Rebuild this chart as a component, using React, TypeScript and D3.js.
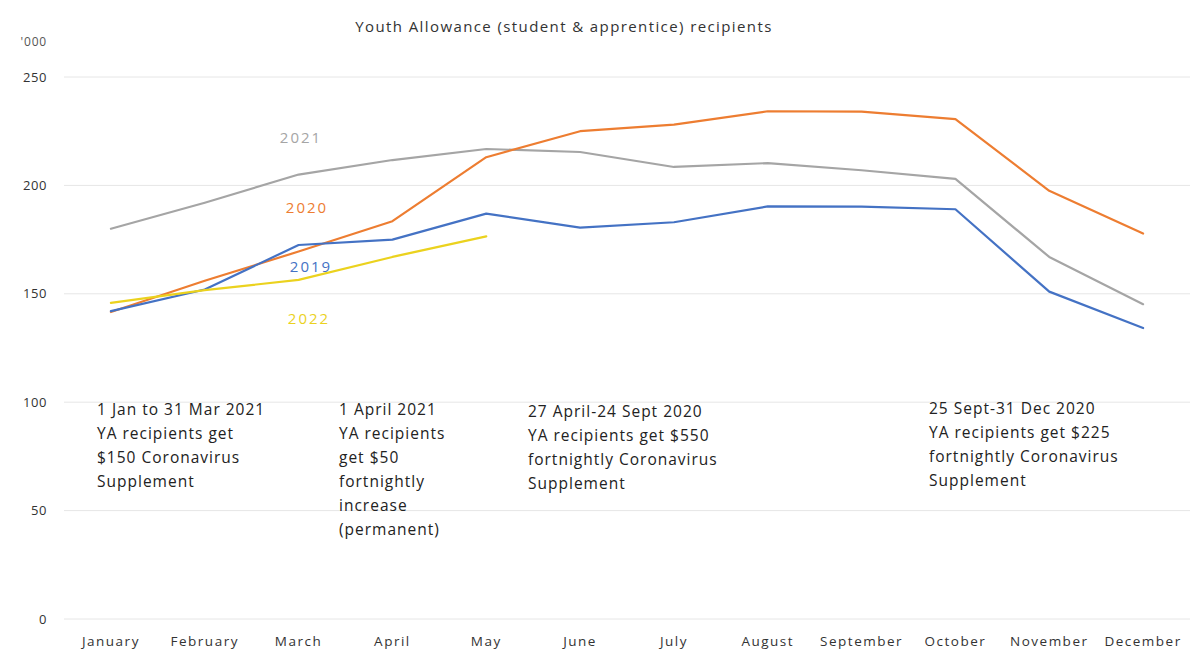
import React from "react";
import * as d3 from "d3";

const months = ["January","February","March","April","May","June","July","August","September","October","November","December"];
const yTicks = [0, 50, 100, 150, 200, 250];

const s2019 = [142, 152, 172.5, 175, 187, 180.5, 183, 190.3, 190.2, 189, 151, 134.2];
const s2020 = [141.6, 156, 169.5, 183.5, 213, 225, 228, 234.2, 234, 230.6, 197.5, 177.8];
const s2021 = [180, 192, 205, 211.7, 216.8, 215.4, 208.5, 210.3, 207, 203, 167, 145.2];
const s2022 = [145.8, 151.7, 156.4, 167, 176.5];

const seriesList = [
  { name: "2021", values: s2021, color: "#A5A5A5" },
  { name: "2020", values: s2020, color: "#ED7D31" },
  { name: "2019", values: s2019, color: "#4472C4" },
  { name: "2022", values: s2022, color: "#EBD21E" },
];

const seriesLabels = [
  { text: "2021", x: 301, y: 138, color: "#A5A5A5" },
  { text: "2020", x: 307, y: 208, color: "#ED7D31" },
  { text: "2019", x: 311, y: 267, color: "#4472C4" },
  { text: "2022", x: 309, y: 319, color: "#EBD21E" },
];

const notes = [
  { x: 97, y: 410, lines: ["1 Jan to 31 Mar 2021", "YA recipients get", "$150 Coronavirus", "Supplement"] },
  { x: 339, y: 410, lines: ["1 April 2021", "YA recipients", "get $50", "fortnightly", "increase", "(permanent)"] },
  { x: 528, y: 412, lines: ["27 April-24 Sept 2020", "YA recipients get $550", "fortnightly Coronavirus", "Supplement"] },
  { x: 929, y: 409, lines: ["25 Sept-31 Dec 2020", "YA recipients get $225", "fortnightly Coronavirus", "Supplement"] },
];

const W = 1197, H = 649;
const left = 64, right = 1190, top = 77, bottom = 619;
const font = "'Open Sans', 'Noto Sans', sans-serif";

export default function App() {
  const x = d3.scaleBand<string>().domain(months).range([left, right]);
  const y = d3.scaleLinear().domain([0, 250]).range([bottom, top]);
  const cx = (i: number) => (x(months[i]) as number) + x.bandwidth() / 2;
  const line = d3.line<number>().x((_, i) => cx(i)).y((d) => y(d));

  return (
    <svg width={W} height={H} style={{ position: "absolute", left: 0, top: 0, background: "#fff" }} fontFamily={font}>
      <rect width={W} height={H} fill="#fff" />
      <text x={564} y={32} textAnchor="middle" fontSize={15} letterSpacing={1.4} fill="#333">Youth Allowance (student &amp; apprentice) recipients</text>
      <text x={47} y={46} textAnchor="end" fontSize={12} letterSpacing={0.8} fill="#555">'000</text>
      {yTicks.map((t) => (
        <g key={t}>
          <line x1={left} x2={right} y1={y(t)} y2={y(t)} stroke="#e6e6e6" strokeWidth={1} />
          <text x={47} y={y(t) + 4.5} textAnchor="end" fontSize={13} letterSpacing={0.6} fill="#333">{t}</text>
        </g>
      ))}
      {months.map((m, i) => (
        <text key={m} x={cx(i)} y={646} textAnchor="middle" fontSize={13.5} letterSpacing={1.5} fill="#333">{m}</text>
      ))}
      {seriesList.map((s) => (
        <path key={s.name} d={line(s.values) || ""} fill="none" stroke={s.color} strokeWidth={2.2} strokeLinejoin="round" strokeLinecap="round" />
      ))}
      {seriesLabels.map((l) => (
        <text key={l.text} x={l.x} y={l.y + 5} textAnchor="middle" fontSize={15} letterSpacing={2} fill={l.color}>{l.text}</text>
      ))}
      {notes.map((n, k) => (
        <text key={k} x={n.x} y={n.y + 5} fontSize={15.5} letterSpacing={1} fill="#222">
          {n.lines.map((ln, j) => (
            <tspan key={j} x={n.x} dy={j === 0 ? 0 : 24}>{ln}</tspan>
          ))}
        </text>
      ))}
    </svg>
  );
}
